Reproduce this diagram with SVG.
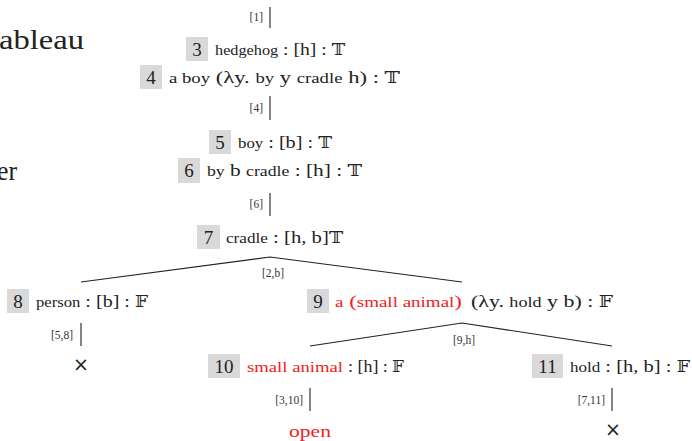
<svg xmlns="http://www.w3.org/2000/svg" width="692" height="441" viewBox="0 0 692 441">
<style>
.box{fill:#d9d9d9}
.num{font-size:19px;fill:#222;text-anchor:middle}
.t{font-size:17.5px;fill:#222}
.s{font-size:14.5px}
.bb{font-size:16px}
.r{fill:#ee2222}
.lab{font-size:11.5px;fill:#333;text-anchor:end}
.edge{stroke:#222;stroke-width:1.1;fill:none}
.big{font-size:27px;fill:#222}
.x{font-size:19px;fill:#222;text-anchor:middle}
</style>
<rect x="0" y="0" width="692" height="441" fill="#ffffff"/>
<text class="big" font-family="Liberation Serif" x="-1" y="49" textLength="85" lengthAdjust="spacingAndGlyphs">ableau</text>
<text class="big" font-family="Liberation Serif" x="-3" y="180" textLength="20" lengthAdjust="spacingAndGlyphs">er</text>
<g id="connectors">
<line class="edge" x1="270" y1="7" x2="270" y2="28"/>
<text class="lab" font-family="Liberation Serif" x="263" y="21">[1]</text>
<line class="edge" x1="270" y1="96" x2="270" y2="120"/>
<text class="lab" font-family="Liberation Serif" x="263" y="112">[4]</text>
<line class="edge" x1="270" y1="193" x2="270" y2="216"/>
<text class="lab" font-family="Liberation Serif" x="263" y="208">[6]</text>
<polyline class="edge" points="81,282 270,257 462,282"/>
<text class="lab" font-family="Liberation Serif" x="284" y="277">[2,b]</text>
<line class="edge" x1="81" y1="323" x2="81" y2="346"/>
<text class="lab" font-family="Liberation Serif" x="73" y="339">[5,8]</text>
<polyline class="edge" points="310,346 462,323 612,346"/>
<text class="lab" font-family="Liberation Serif" x="475" y="344">[9,h]</text>
<line class="edge" x1="310" y1="388" x2="310" y2="411"/>
<text class="lab" font-family="Liberation Serif" x="303" y="404">[3,10]</text>
<line class="edge" x1="612" y1="388" x2="612" y2="411"/>
<text class="lab" font-family="Liberation Serif" x="605" y="404">[7,11]</text>
</g>
<g id="n3"><rect class="box" x="186" y="37" width="22" height="24"/><text class="num" font-family="Liberation Serif" x="197" y="56">3</text><text class="t" font-family="Liberation Serif" x="215" y="55" textLength="130" lengthAdjust="spacingAndGlyphs"><tspan class="s">hedgehog</tspan> : [h] : <tspan class="bb" font-family="DejaVu Serif">𝕋</tspan></text></g>
<g id="n4"><rect class="box" x="140" y="65" width="22" height="24"/><text class="num" font-family="Liberation Serif" x="151" y="84">4</text><text class="t" font-family="Liberation Serif" x="169" y="83" textLength="231" lengthAdjust="spacingAndGlyphs"><tspan class="s">a boy</tspan>  (λy. <tspan class="s">by</tspan>  y  <tspan class="s">cradle</tspan>  h) : <tspan class="bb" font-family="DejaVu Serif">𝕋</tspan></text></g>
<g id="n5"><rect class="box" x="209" y="130" width="22" height="24"/><text class="num" font-family="Liberation Serif" x="220" y="149">5</text><text class="t" font-family="Liberation Serif" x="238" y="148" textLength="94" lengthAdjust="spacingAndGlyphs"><tspan class="s">boy</tspan> : [b] : <tspan class="bb" font-family="DejaVu Serif">𝕋</tspan></text></g>
<g id="n6"><rect class="box" x="178" y="158" width="22" height="25"/><text class="num" font-family="Liberation Serif" x="189" y="177">6</text><text class="t" font-family="Liberation Serif" x="207" y="176" textLength="155" lengthAdjust="spacingAndGlyphs"><tspan class="s">by</tspan> b <tspan class="s">cradle</tspan> : [h] : <tspan class="bb" font-family="DejaVu Serif">𝕋</tspan></text></g>
<g id="n7"><rect class="box" x="197" y="225" width="23" height="24"/><text class="num" font-family="Liberation Serif" x="208.5" y="244">7</text><text class="t" font-family="Liberation Serif" x="226" y="243" textLength="117" lengthAdjust="spacingAndGlyphs"><tspan class="s">cradle</tspan> : [h, b]<tspan class="bb" font-family="DejaVu Serif">𝕋</tspan></text></g>
<g id="n8"><rect class="box" x="7" y="289" width="22" height="24"/><text class="num" font-family="Liberation Serif" x="18" y="308">8</text><text class="t" font-family="Liberation Serif" x="36" y="307" textLength="112" lengthAdjust="spacingAndGlyphs"><tspan class="s">person</tspan> : [b] : <tspan class="bb" font-family="DejaVu Serif">𝔽</tspan></text><text class="x" font-family="DejaVu Sans" x="81" y="371">×</text></g>
<g id="n9"><rect class="box" x="307" y="289" width="22" height="24"/><text class="num" font-family="Liberation Serif" x="318" y="308">9</text><text class="t r" font-family="Liberation Serif" x="335" y="307" textLength="127" lengthAdjust="spacingAndGlyphs"><tspan class="s">a</tspan>  (<tspan class="s">small animal</tspan>)</text><text class="t" font-family="Liberation Serif" x="471" y="307" textLength="142" lengthAdjust="spacingAndGlyphs">(λy. <tspan class="s">hold</tspan>  y  b) : <tspan class="bb" font-family="DejaVu Serif">𝔽</tspan></text></g>
<g id="n10"><rect class="box" x="208" y="354" width="32" height="24"/><text class="num" font-family="Liberation Serif" x="224" y="373">10</text><text class="t r" font-family="Liberation Serif" x="247" y="372" textLength="96" lengthAdjust="spacingAndGlyphs"><tspan class="s">small animal</tspan></text><text class="t" font-family="Liberation Serif" x="348" y="372" textLength="56" lengthAdjust="spacingAndGlyphs">: [h] : <tspan class="bb" font-family="DejaVu Serif">𝔽</tspan></text><text class="t r" font-family="Liberation Serif" x="310" y="437" text-anchor="middle" font-size="20.5px" textLength="42" lengthAdjust="spacingAndGlyphs">open</text></g>
<g id="n11"><rect class="box" x="532" y="354" width="31" height="24"/><text class="num" font-family="Liberation Serif" x="547.5" y="373">11</text><text class="t" font-family="Liberation Serif" x="570" y="372" textLength="120" lengthAdjust="spacingAndGlyphs"><tspan class="s">hold</tspan> : [h, b] : <tspan class="bb" font-family="DejaVu Serif">𝔽</tspan></text><text class="x" font-family="DejaVu Sans" x="613" y="436">×</text></g>
</svg>
